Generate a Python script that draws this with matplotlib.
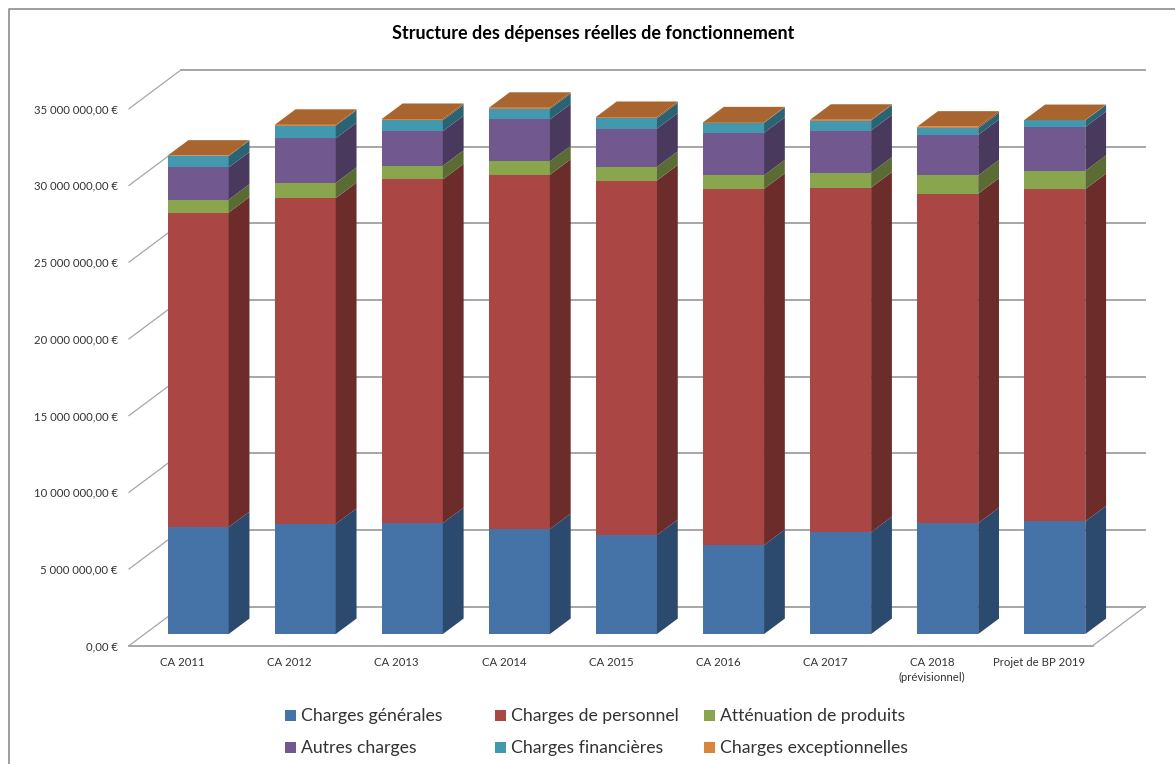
import matplotlib
matplotlib.use("Agg")
import numpy as np
import matplotlib.pyplot as plt
from matplotlib.patches import Polygon, Rectangle

plt.rcParams['font.family'] = ['Lato', 'DejaVu Sans']

categories = ["CA 2011", "CA 2012", "CA 2013", "CA 2014", "CA 2015", "CA 2016", "CA 2017",
              "CA 2018\n(prévisionnel)", "Projet de BP 2019"]

# montants en euros
charges_generales = [6.97e6, 7.18e6, 7.23e6, 6.84e6, 6.45e6, 5.80e6, 6.64e6, 7.23e6, 7.34e6]
charges_personnel = [20.50e6, 21.23e6, 22.40e6, 23.09e6, 23.11e6, 23.22e6, 22.46e6, 21.47e6, 21.66e6]
attenuation = [0.84e6, 1.00e6, 0.89e6, 0.88e6, 0.89e6, 0.88e6, 0.97e6, 1.19e6, 1.19e6]
autres_charges = [2.10e6, 2.90e6, 2.25e6, 2.73e6, 2.49e6, 2.77e6, 2.75e6, 2.64e6, 2.86e6]
charges_financieres = [0.74e6, 0.82e6, 0.71e6, 0.68e6, 0.67e6, 0.65e6, 0.65e6, 0.43e6, 0.43e6]
charges_exceptionnelles = [0.03e6, 0.06e6, 0.09e6, 0.08e6, 0.09e6, 0.03e6, 0.05e6, 0.11e6, 0.02e6]

series = [charges_generales, charges_personnel, attenuation, autres_charges,
          charges_financieres, charges_exceptionnelles]
series_names = ["Charges générales", "Charges de personnel", "Atténuation de produits",
                "Autres charges", "Charges financières", "Charges exceptionnelles"]
y_ticks = [0, 5e6, 10e6, 15e6, 20e6, 25e6, 30e6, 35e6]

front_colors = ["#4572A7", "#AA4643", "#89A54E", "#71588F", "#4198AF", "#DB843D"]
side_colors = ["#2C4A6D", "#6C2C2A", "#5A6B33", "#49395D", "#2A6373", "#8F5628"]
top_color = "#A8652F"
grid_color = "#A6A6A6"
text_color = "#333333"

W, H = 1175, 764
fig = plt.figure(figsize=(W / 100, H / 100), dpi=100)
# zone du plan avant de la "boite" 3D
ax = fig.add_axes([129 / W, 1 - 645.7 / H, 963.7 / W, 537 / H])
ax.set_xlim(-0.5, 8.5)
ax.set_ylim(0, 35e6)
for s in ax.spines.values():
    s.set_visible(False)
ax.patch.set_visible(False)

# decalage oblique pour la profondeur
depth_x = 52 / (963.7 / 9)
depth_y = 38.8 / (537 / 35e6)
d_front, d_back = 0.30, 0.70
bar_w = 0.57


def shift(x, y, d):
    return x + d * depth_x, y + d * depth_y


# murs : grille du fond et diagonales de gauche
x0, x1 = -0.5, 8.5
for v in y_ticks:
    xa, ya = shift(x0, v, 0)
    xb, yb = shift(x0, v, 1)
    xc, yc = shift(x1, v, 1)
    ax.plot([xa, xb], [ya, yb], color=grid_color, lw=0.9, clip_on=False, zorder=1)
    ax.plot([xb, xc], [yb, yc], color=grid_color, lw=1.4, clip_on=False, zorder=1)
# plancher
xb, yb = shift(x1, 0, 1)
ax.plot([x0, x1], [0, 0], color=grid_color, lw=1.4, clip_on=False, zorder=1)
ax.plot([x1, xb], [0, yb], color=grid_color, lw=0.9, clip_on=False, zorder=1)

# barres empilees : face avant (ax.bar), cote et dessus (polygones)
xs = np.arange(len(categories))
bottom = np.zeros(len(categories))
for k, vals in enumerate(series):
    vals = np.array(vals)
    xf = shift(xs, 0, d_front)[0]
    yf = d_front * depth_y
    ax.bar(xf, vals, bar_w, bottom=bottom + yf, color=front_colors[k], linewidth=0,
           clip_on=False, zorder=3)
    for i in xs:
        xr = xf[i] + bar_w / 2
        lo, hi = bottom[i], bottom[i] + vals[i]
        dd = d_back - d_front
        pts = [(xr, lo + yf), (xr, hi + yf),
               (xr + dd * depth_x, hi + yf + dd * depth_y),
               (xr + dd * depth_x, lo + yf + dd * depth_y)]
        ax.add_patch(Polygon(pts, closed=True, facecolor=side_colors[k], edgecolor='none',
                             clip_on=False, zorder=3))
    bottom = bottom + vals

# dessus des barres
for i in xs:
    xf = shift(i, 0, d_front)[0]
    yt = bottom[i] + d_front * depth_y
    dd = d_back - d_front
    pts = [(xf - bar_w / 2, yt), (xf + bar_w / 2, yt),
           (xf + bar_w / 2 + dd * depth_x, yt + dd * depth_y),
           (xf - bar_w / 2 + dd * depth_x, yt + dd * depth_y)]
    ax.add_patch(Polygon(pts, closed=True, facecolor=top_color, edgecolor='none',
                         clip_on=False, zorder=3))

# axes
ax.set_xticks(xs)
ax.set_xticklabels(categories, fontsize=8.2, color=text_color, linespacing=1.45)
ax.tick_params(axis='x', length=0, pad=8)
ax.set_yticks(y_ticks)
ax.set_yticklabels([f"{v:,.2f} €".replace(",", "#").replace(".", ",").replace("#", " ") for v in y_ticks],
                   fontsize=8.2, color=text_color)
ax.tick_params(axis='y', length=0, pad=8)

fig.text(593.5 / W, 1 - 33 / H, "Structure des dépenses réelles de fonctionnement", fontsize=12.95,
         fontweight='bold', color='black', ha='center', va='center')

# legende sur deux lignes
leg_x = [285, 495, 704]
leg_y = [716, 748]
for k, name in enumerate(series_names):
    lx = leg_x[k % 3]
    ly = leg_y[k // 3]
    fig.add_artist(Rectangle((lx / W, 1 - (ly + 5) / H), 11 / W, 11 / H, transform=fig.transFigure,
                             facecolor=front_colors[k], edgecolor='none'))
    fig.text((lx + 16) / W, 1 - ly / H, name, fontsize=12.7, color=text_color, ha='left', va='center')

# cadre du graphique
fig.add_artist(plt.Line2D([9 / W, 9 / W, 1], [0, 1 - 9 / H, 1 - 9 / H], color='#8C8C8C', lw=1.2))

fig.savefig("out.png", dpi=100)
